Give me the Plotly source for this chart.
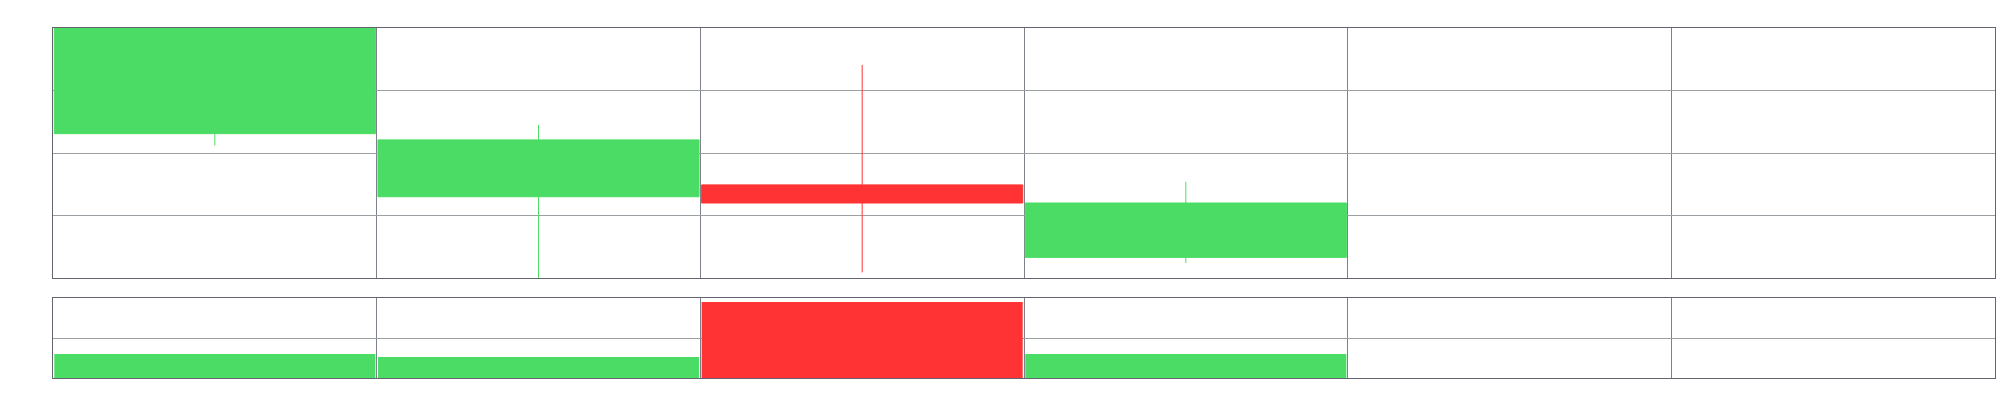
import plotly.graph_objects as go
from plotly.subplots import make_subplots

periods = [0, 1, 2, 3, 4, 5]
open_ = [123.1, 113.0, 114.9, 103.3, None, None]
high = [140.0, 124.5, 134.1, 115.4, None, None]
low = [121.2, 100.0, 100.9, 102.4, None, None]
close = [140.0, 122.1, 112.0, 112.0, None, None]
volume = [600, 525, 1900, 600, None, None]

GREEN = "#4ADC64"
RED = "#FF3333"

vol_colors = []
for o, c in zip(open_, close):
    if o is None:
        vol_colors.append(GREEN)
    else:
        vol_colors.append(GREEN if c >= o else RED)

fig = make_subplots(rows=2, cols=1, shared_xaxes=False,
                    row_heights=[250, 80], vertical_spacing=20 / 350)

fig.add_trace(go.Candlestick(
    x=periods, open=open_, high=high, low=low, close=close,
    increasing=dict(line=dict(color=GREEN, width=1), fillcolor=GREEN),
    decreasing=dict(line=dict(color=RED, width=1), fillcolor=RED),
    whiskerwidth=0, showlegend=False, hoverinfo="none",
), row=1, col=1)

fig.add_trace(go.Bar(
    x=periods, y=volume, marker=dict(color=vol_colors, line=dict(width=0)),
    showlegend=False, hoverinfo="none",
), row=2, col=1)

axis_x = dict(range=[-0.5, 5.5], tick0=0.5, dtick=1, showticklabels=False,
              ticks="", showgrid=True, gridcolor="#7D828A", gridwidth=1,
              showline=True, linecolor="#64646E", linewidth=1, mirror=True,
              zeroline=False)
fig.update_xaxes(**axis_x)
fig.update_xaxes(rangeslider_visible=False, row=1, col=1)

fig.update_yaxes(range=[100, 140], tick0=100, dtick=10, showticklabels=False,
                 ticks="", showgrid=True, gridcolor="#9AA0A4", gridwidth=1,
                 showline=True, linecolor="#64646E", linewidth=1, mirror=True,
                 zeroline=False, row=1, col=1)
fig.update_yaxes(range=[0, 2000], tick0=0, dtick=1000, showticklabels=False,
                 ticks="", showgrid=True, gridcolor="#9AA0A4", gridwidth=1,
                 showline=True, linecolor="#64646E", linewidth=1, mirror=True,
                 zeroline=False, row=2, col=1)

fig.update_layout(
    width=2008, height=400,
    margin=dict(l=45, r=21, t=20, b=30),
    paper_bgcolor="white", plot_bgcolor="white",
    boxgap=0.008, boxgroupgap=0, bargap=0.008,
    showlegend=False,
)

fig.write_html("out.html")
